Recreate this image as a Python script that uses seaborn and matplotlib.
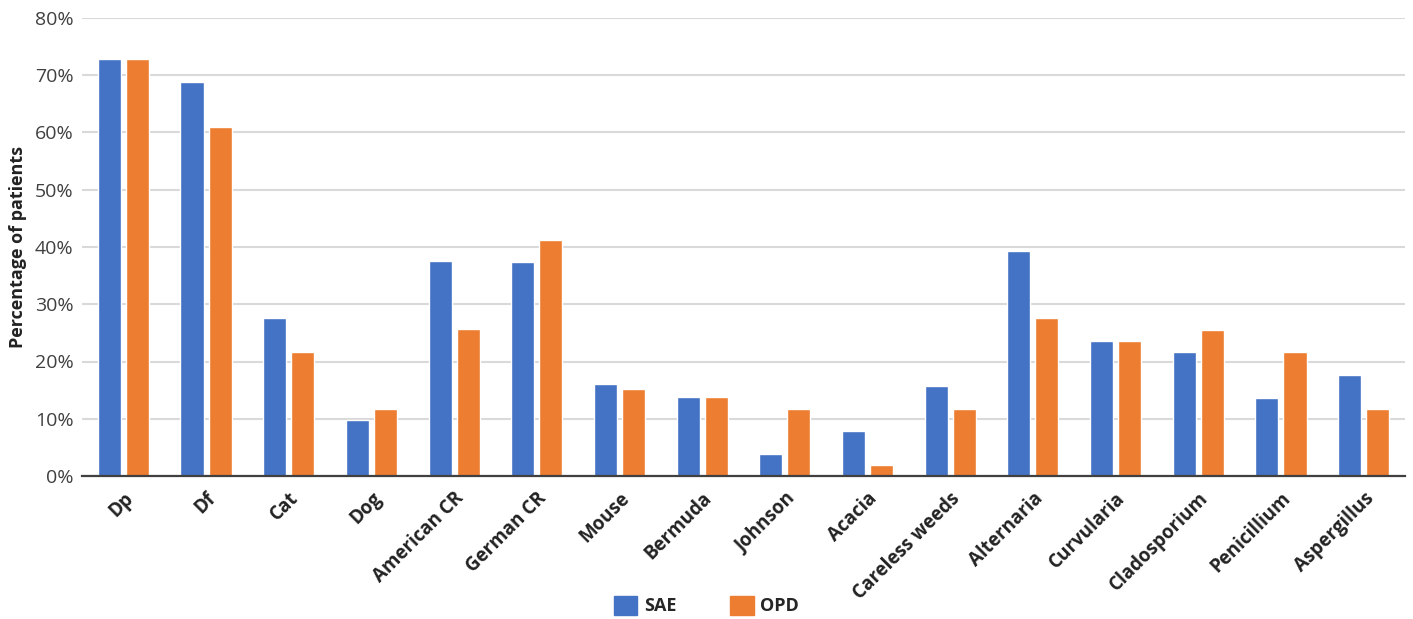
import matplotlib
matplotlib.use("Agg")
import matplotlib.pyplot as plt
from matplotlib.ticker import FuncFormatter, MultipleLocator
import seaborn as sns
import pandas as pd

allergens = ["Dp", "Df", "Cat", "Dog", "American CR", "German CR", "Mouse",
             "Bermuda", "Johnson", "Acacia", "Careless weeds", "Alternaria",
             "Curvularia", "Cladosporium", "Penicillium", "Aspergillus"]
sae = [72.8, 68.8, 27.6, 9.8, 37.6, 37.4, 16.1, 13.8, 3.9, 7.8, 15.7, 39.3,
       23.6, 21.7, 13.7, 17.6]
opd = [72.8, 60.9, 21.7, 11.7, 25.6, 41.2, 15.2, 13.8, 11.7, 2.0, 11.7, 27.6,
       23.6, 25.5, 21.7, 11.7]
groups = ["SAE", "OPD"]
colors = ["#4472C4", "#ED7D31"]

df = pd.DataFrame({
    "Allergen": allergens * 2,
    "Group": [groups[0]] * len(allergens) + [groups[1]] * len(allergens),
    "Percent": sae + opd,
})

sns.set_theme(style="white")
plt.rcParams["font.family"] = ["Open Sans", "DejaVu Sans"]

fig = plt.figure(figsize=(14.13, 6.19), dpi=100)
ax = fig.add_axes([82 / 1413, 1 - 476 / 619, (1405 - 82) / 1413, (476 - 18) / 619])

sns.barplot(data=df, x="Allergen", y="Percent", hue="Group",
            palette=colors, width=0.68, gap=0.18, saturation=1,
            ax=ax, legend=False)

ax.set_ylim(0, 80)
ax.set_xlim(-0.5, len(allergens) - 0.5)
ax.yaxis.set_major_locator(MultipleLocator(10))
ax.yaxis.set_major_formatter(FuncFormatter(lambda v, _: f"{v:.0f}%"))
ax.grid(axis="y", color="#d9d9d9", linewidth=1.5)
ax.set_axisbelow(True)
for s in ["top", "right", "left"]:
    ax.spines[s].set_visible(False)
ax.spines["bottom"].set_color("#404040")
ax.spines["bottom"].set_linewidth(1.6)
ax.spines["bottom"].set_zorder(5)

ax.tick_params(axis="both", length=0)
ax.tick_params(axis="y", labelsize=14, labelcolor="#404040", pad=6)
ax.set_xlabel("")
ax.set_ylabel("Percentage of patients", fontsize=13, fontweight="bold",
              color="#222222", labelpad=6)
plt.setp(ax.get_xticklabels(), rotation=45, ha="right", rotation_mode="anchor",
         fontsize=13.5, fontweight="bold", color="#222222")
ax.tick_params(axis="x", pad=9)

handles = [plt.Rectangle((0, 0), 1, 1, color=c) for c in colors]
fig.legend(handles, groups, loc="lower center", ncol=2, frameon=False,
           bbox_to_anchor=(0.5, 0.0), handlelength=1.3, handleheight=1.3,
           columnspacing=3.0, handletextpad=0.35, borderpad=0.1,
           borderaxespad=0.1, prop={"weight": "bold", "size": 13})

fig.savefig("out.png", dpi=100)
